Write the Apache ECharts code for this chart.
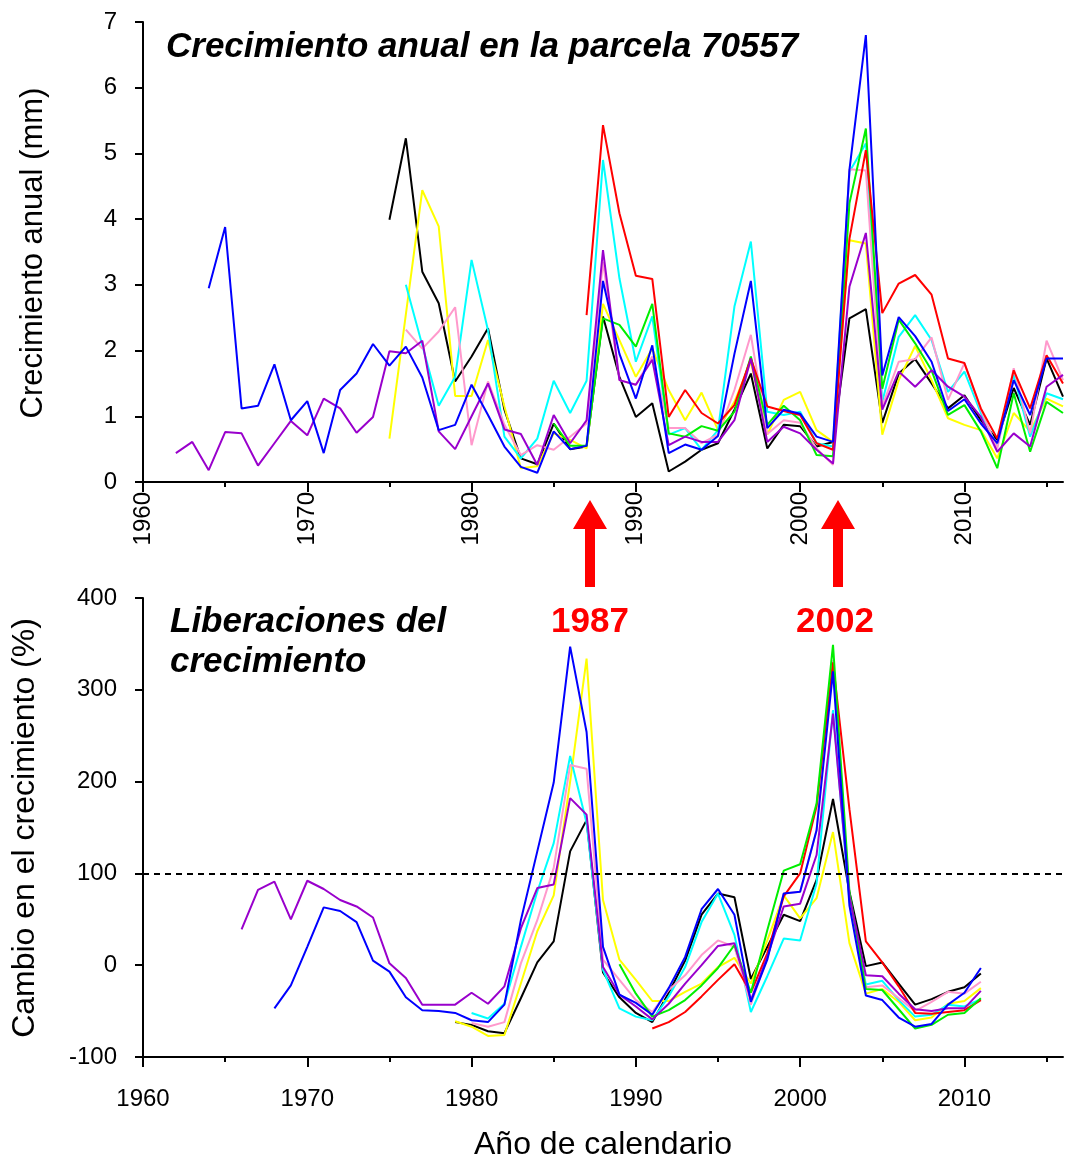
<!DOCTYPE html>
<html>
<head>
<meta charset="utf-8">
<script src="https://cdn.jsdelivr.net/npm/echarts@6/dist/echarts.min.js"></script>
<style>html,body{margin:0;padding:0;background:#fff}#c{width:1065px;height:1160px}</style>
</head>
<body>
<div id="c"></div>
<script>
// ---------- DATA ----------
// Top panel: annual growth (mm). Each series: first year + values for consecutive years.
const topPurpleStart = 1962;
const topPurple = [0.44,0.61,0.18,0.76,0.74,0.25,0.59,0.93,0.71,1.27,1.12,0.75,0.99,1.99,1.96,2.15,0.77,0.50,1.00,1.50,0.80,0.73,0.26,1.02,0.59,0.94,3.53,1.55,1.48,1.86,0.56,0.69,0.61,0.61,0.94,1.88,0.61,0.84,0.74,0.49,0.28,2.97,3.79,1.10,1.68,1.45,1.70,1.45,1.30,0.99,0.46,0.74,0.54,1.45,1.63];
const topBlueStart = 1964;
const topBlue = [2.95,3.88,1.12,1.16,1.79,0.94,1.23,0.44,1.40,1.65,2.10,1.77,2.06,1.59,0.79,0.87,1.48,1.02,0.54,0.23,0.14,0.77,0.50,0.55,3.06,1.95,1.27,2.08,0.44,0.57,0.49,0.70,1.95,3.06,0.82,1.10,1.04,0.69,0.61,4.75,6.80,1.62,2.51,2.22,1.83,1.08,1.26,0.89,0.59,1.55,1.02,1.88,1.88];
const topBlackStart = 1975;
const topBlack = [3.99,5.23,3.20,2.72,1.53,1.91,2.34,1.10,0.36,0.27,0.89,0.50,0.54,2.52,1.60,0.99,1.20,0.16,0.31,0.49,0.59,1.10,1.65,0.51,0.87,0.85,0.54,0.61,2.49,2.63,0.90,1.65,1.87,1.50,1.12,1.32,0.94,0.64,1.43,0.87,1.88,1.30];
const topYellowStart = 1975;
const topYellow = [0.66,2.55,4.44,3.89,1.31,1.31,2.16,1.15,0.21,0.24,0.74,0.64,0.51,2.71,2.16,1.60,2.03,1.40,0.94,1.36,0.79,1.22,1.83,0.72,1.25,1.37,0.79,0.61,3.68,3.63,0.72,1.55,2.07,1.55,0.97,0.87,0.79,0.36,1.05,0.77,1.27,1.15];
const topCyanStart = 1976;
const topCyan = [3.00,2.08,1.16,1.60,3.38,2.31,0.69,0.36,0.66,1.54,1.05,1.54,4.90,3.10,1.83,2.52,0.72,0.82,0.49,0.79,2.67,3.66,1.07,1.02,1.07,0.59,0.54,4.72,5.15,1.22,2.21,2.54,2.16,1.37,1.68,1.05,0.54,1.63,0.69,1.35,1.26];
const topPinkStart = 1976;
const topPink = [2.32,2.03,2.29,2.66,0.56,1.53,0.87,0.41,0.56,0.49,0.69,0.89,3.35,1.55,1.48,1.91,0.82,0.82,0.59,0.72,1.40,2.24,0.73,0.94,0.90,0.51,0.26,4.76,4.74,1.15,1.83,1.87,2.20,1.25,1.81,1.10,0.51,1.73,0.74,2.15,1.55];
const topRedStart = 1987;
const topRed = [2.54,5.43,4.09,3.14,3.09,0.99,1.40,1.05,0.89,1.17,1.88,1.15,1.08,1.02,0.59,0.49,3.70,5.05,2.57,3.02,3.15,2.85,1.88,1.81,1.12,0.66,1.70,1.12,1.93,1.50];
const topGreenStart = 1985;
const topGreen = [0.89,0.55,0.55,2.49,2.39,2.06,2.71,0.74,0.69,0.85,0.78,1.07,1.91,0.87,1.16,0.94,0.41,0.39,4.24,5.38,1.42,2.47,2.11,1.70,1.02,1.17,0.77,0.21,1.35,0.46,1.22,1.05];

// Bottom panel: growth change (%)
const botPurpleStart = 1966;
const botPurple = [39,82,91,50,92,83,71,64,52,2,-14,-43,-43,-43,-30,-42,-23,40,84,88,182,164,-2,-32,-45,-59,-42,-20,0,21,24,-38,9,64,67,120,274,75,-11,-12,-31,-48,-50,-47,-47,-28];
const botBlueStart = 1968;
const botBlue = [-47,-22,20,63,59,47,5,-7,-35,-49,-50,-52,-60,-62,-43,49,124,199,347,254,20,-32,-41,-54,-25,9,61,83,55,-40,6,78,80,147,320,65,-33,-38,-57,-67,-64,-43,-30,-3];
const botBlackStart = 1979;
const botBlack = [-62,-65,-72,-74,-36,3,26,124,158,-8,-35,-52,-62,-30,5,55,78,74,-15,20,55,48,93,181,80,-1,3,-20,-43,-37,-29,-24,-9];
const botYellowStart = 1979;
const botYellow = [-61,-67,-77,-76,-20,37,76,200,334,71,6,-16,-39,-39,-29,-20,-2,8,-20,27,76,51,73,145,24,-31,-26,-40,-60,-57,-42,-39,-25];
const botCyanStart = 1980;
const botCyan = [-52,-58,-42,20,80,133,228,155,-5,-47,-56,-60,-34,-2,47,78,33,-51,-12,29,27,89,278,70,-21,-17,-38,-56,-54,-43,-45,-37];
const botPinkStart = 1980;
const botPink = [-63,-67,-62,2,49,106,218,214,6,-16,-38,-51,-27,-11,11,27,20,-43,9,78,80,147,332,72,-24,-22,-36,-50,-40,-29,-31,-18];
const botGreenStart = 1989;
const botGreen = [1,-31,-56,-49,-38,-22,-3,22,-30,38,103,110,176,349,80,-26,-27,-48,-69,-65,-54,-52,-36];
const botRedStart = 1991;
const botRed = [-69,-62,-51,-34,-16,1,-30,13,75,100,173,330,170,26,3,-23,-52,-53,-51,-49,-38];

// Axis ticks / labels
const majorYears = [1960,1970,1980,1990,2000,2010];
const minorYears = [1965,1975,1985,1995,2005,2015];
const threshold = 100;

// ---------- CHART ----------
const FONT = '"Liberation Sans", Arial, sans-serif';
const colors = {black:'#000000', blue:'#0000FF', red:'#FF0000', cyan:'#00FFFF', yellow:'#FFFF00', green:'#00EE00', purple:'#9900CC', pink:'#FF99CC'};

function pairs(start, arr){ return arr.map((v,i)=>[start+i, v]); }
function line(name, color, start, arr, xi, yi, extra){
  return Object.assign({
    name, type:'line', xAxisIndex:xi, yAxisIndex:yi, data:pairs(start,arr),
    showSymbol:false, symbol:'none', animation:false,
    lineStyle:{color, width:2}, itemStyle:{color}, z:2
  }, extra||{});
}

const chart = echarts.init(document.getElementById('c'), null, {renderer:'canvas'});

const plain = v => String(v);
function xAxisDef(grid, major, rotate, margin){
  return {
    type:'value', gridIndex:grid, position:'bottom', min:1960, max:2016, splitLine:{show:false},
    axisLine:{show:major, onZero:false, lineStyle:{color:'#000', width:2}},
    axisTick:{show:true, customValues: major ? majorYears : minorYears, length: major ? 10 : 5,
      lineStyle:{color:'#000', width:2}},
    axisLabel: major ? {show:true, customValues:majorYears, formatter:plain, rotate, margin,
      fontSize:24, color:'#000', fontFamily:FONT} : {show:false}
  };
}
function yAxisDef(grid, min, max, interval){
  return {type:'value', gridIndex:grid, position:'left', min, max, interval, splitLine:{show:false},
    axisLine:{show:true, onZero:false, lineStyle:{color:'#000', width:2}},
    axisTick:{show:true, length:8, lineStyle:{color:'#000', width:2}},
    axisLabel:{margin:26, fontSize:24, color:'#000', fontFamily:FONT, formatter:plain}};
}

const option = {
  backgroundColor:'#fff',
  animation:false,
  grid:[
    {left:143, top:22, width:920, height:460},
    {left:143, top:598, width:920, height:459}
  ],
  xAxis:[
    xAxisDef(0, true, 90, 10),
    xAxisDef(0, false),
    xAxisDef(1, true, 0, 30),
    xAxisDef(1, false)
  ],
  yAxis:[
    yAxisDef(0, 0, 7, 1),
    yAxisDef(1, -100, 400, 100)
  ],
  series:[
    line('black', colors.black, topBlackStart, topBlack, 0, 0),
    line('yellow', colors.yellow, topYellowStart, topYellow, 0, 0),
    line('cyan', colors.cyan, topCyanStart, topCyan, 0, 0),
    line('pink', colors.pink, topPinkStart, topPink, 0, 0),
    line('green', colors.green, topGreenStart, topGreen, 0, 0),
    line('red', colors.red, topRedStart, topRed, 0, 0),
    line('purple', colors.purple, topPurpleStart, topPurple, 0, 0),
    line('blue', colors.blue, topBlueStart, topBlue, 0, 0),

    line('b-black', colors.black, botBlackStart, botBlack, 2, 1, {
      markLine:{silent:true, symbol:['none','none'], animation:false, label:{show:false},
        lineStyle:{color:'#000', width:2, type:[6,5]}, data:[{yAxis:threshold}]}
    }),
    line('b-yellow', colors.yellow, botYellowStart, botYellow, 2, 1),
    line('b-cyan', colors.cyan, botCyanStart, botCyan, 2, 1),
    line('b-pink', colors.pink, botPinkStart, botPink, 2, 1),
    line('b-red', colors.red, botRedStart, botRed, 2, 1),
    line('b-green', colors.green, botGreenStart, botGreen, 2, 1),
    line('b-purple', colors.purple, botPurpleStart, botPurple, 2, 1),
    line('b-blue', colors.blue, botBlueStart, botBlue, 2, 1)
  ]
};
chart.setOption(option);

function arrow(cx){
  return {type:'polygon', silent:true, z:10,
    shape:{points:[[cx,500],[cx+17,529],[cx+5,529],[cx+5,587],[cx-5,587],[cx-5,529],[cx-17,529]]},
    style:{fill:'#FF0000'}};
}
function txt(text, x, y, opts){
  return {type:'text', silent:true, z:10, x, y,
    style:Object.assign({text, fill:'#000', align:'left', verticalAlign:'middle',
      font:'italic bold 35px ' + FONT}, opts||{})};
}
chart.setOption({graphic:[
  txt('Crecimiento anual en la parcela 70557', 166, 47),
  txt('Liberaciones del', 170, 622),
  txt('crecimiento', 170, 662),
  txt('1987', 590, 622, {fill:'#FF0000', align:'center', font:'bold 35px ' + FONT}),
  txt('2002', 835, 622, {fill:'#FF0000', align:'center', font:'bold 35px ' + FONT}),
  arrow(590), arrow(838),
  {type:'text', silent:true, x:33, y:253, rotation:Math.PI/2,
    style:{text:'Crecimiento anual (mm)', fill:'#000', align:'center', verticalAlign:'middle', font:'31px ' + FONT}},
  {type:'text', silent:true, x:25, y:828, rotation:Math.PI/2,
    style:{text:'Cambio en el crecimiento (%)', fill:'#000', align:'center', verticalAlign:'middle', font:'32px ' + FONT}},
  {type:'text', silent:true, x:603, y:1145,
    style:{text:'Año de calendario', fill:'#000', align:'center', verticalAlign:'middle', font:'32px ' + FONT}}
]});
</script>
</body>
</html>
